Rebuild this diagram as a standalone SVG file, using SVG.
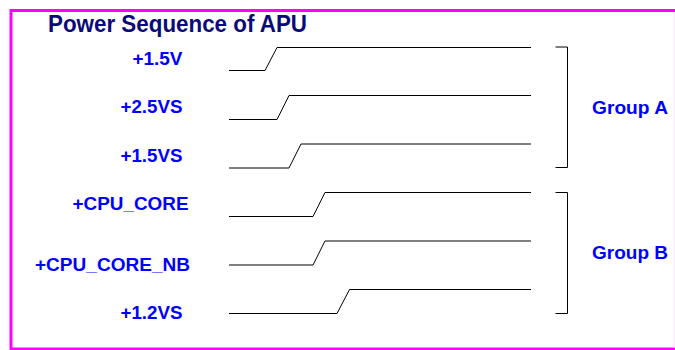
<svg xmlns="http://www.w3.org/2000/svg" width="675" height="350" viewBox="0 0 675 350">
  <style>
    .lbl { font-family: "Liberation Sans", Arial, sans-serif; font-weight: bold; font-size: 17.5px; fill: #0000ff; }
    .title { font-family: "Liberation Sans", Arial, sans-serif; font-weight: bold; font-size: 23px; fill: #0a0a78; }
    .wave { fill: none; stroke: #000; stroke-width: 1; }
    .brk { fill: none; stroke: #000; stroke-width: 1; }
  </style>
  <rect x="0" y="0" width="675" height="350" fill="#ffffff"/>
  <path d="M700 10.5 H11 V349 H700" fill="none" stroke="#ff00ff" stroke-width="3"/>
  <line x1="674.5" y1="12" x2="674.5" y2="347.5" stroke="#ffe4ff" stroke-width="1"/>
  <text class="title" x="48" y="32" textLength="259" lengthAdjust="spacingAndGlyphs">Power Sequence of APU</text>

  <g id="sig-1v5">
    <text class="lbl" x="182.5" y="64.5" text-anchor="end" textLength="50" lengthAdjust="spacingAndGlyphs">+1.5V</text>
    <path class="wave" d="M229 70.5 H265 L277 47.5 H531"/>
  </g>
  <g id="sig-2v5s">
    <text class="lbl" x="182.5" y="113" text-anchor="end" textLength="62" lengthAdjust="spacingAndGlyphs">+2.5VS</text>
    <path class="wave" d="M229 119.5 H277 L289 95.5 H531"/>
  </g>
  <g id="sig-1v5s">
    <text class="lbl" x="182.5" y="162" text-anchor="end" textLength="62" lengthAdjust="spacingAndGlyphs">+1.5VS</text>
    <path class="wave" d="M229 168 H289 L301 144 H531"/>
  </g>
  <g id="sig-cpu-core">
    <text class="lbl" x="188.5" y="209.5" text-anchor="end" textLength="116" lengthAdjust="spacingAndGlyphs">+CPU_CORE</text>
    <path class="wave" d="M229 216.5 H313 L325 192.5 H531"/>
  </g>
  <g id="sig-cpu-core-nb">
    <text class="lbl" x="190" y="271" text-anchor="end" textLength="155" lengthAdjust="spacingAndGlyphs">+CPU_CORE_NB</text>
    <path class="wave" d="M229 265 H313 L325 241 H531"/>
  </g>
  <g id="sig-1v2s">
    <text class="lbl" x="182.5" y="319" text-anchor="end" textLength="62" lengthAdjust="spacingAndGlyphs">+1.2VS</text>
    <path class="wave" d="M229 313.5 H337 L349.5 289.5 H531"/>
  </g>

  <g id="group-a">
    <path class="brk" d="M555.5 47 H567.5 V167.5 H555.5"/>
    <text class="lbl" x="592" y="113.5" textLength="76" lengthAdjust="spacingAndGlyphs">Group A</text>
  </g>
  <g id="group-b">
    <path class="brk" d="M555.5 192.5 H567.5 V313.5 H555.5"/>
    <text class="lbl" x="592" y="258.5" textLength="76" lengthAdjust="spacingAndGlyphs">Group B</text>
  </g>
  <g id="connectors"/>
</svg>
